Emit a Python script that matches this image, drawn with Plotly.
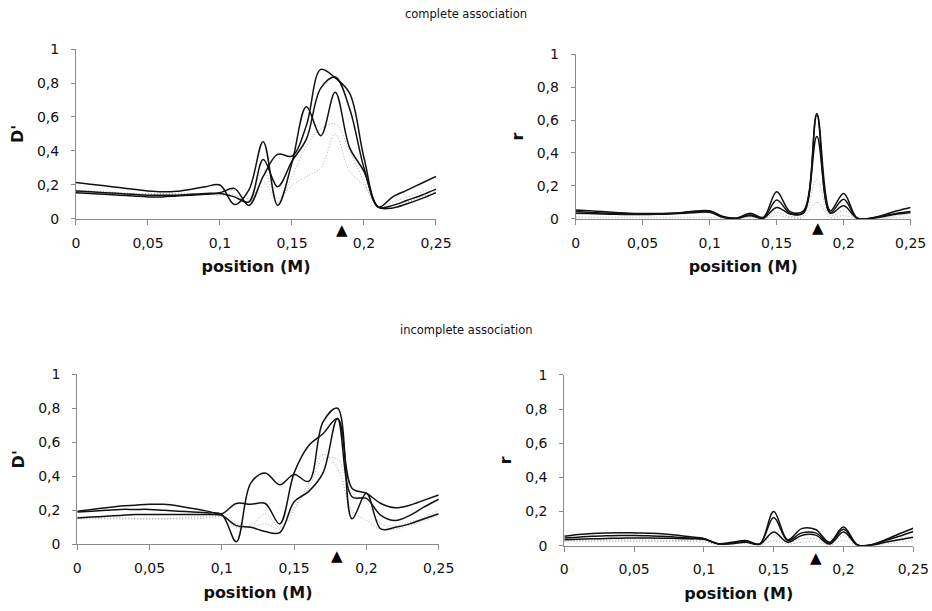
import plotly.graph_objects as go

# ---------------- data ----------------
position = [0.00, 0.01, 0.02, 0.03, 0.04, 0.05, 0.06, 0.07, 0.08, 0.09,
            0.10, 0.11, 0.12, 0.13, 0.14, 0.15, 0.16, 0.17, 0.18, 0.19,
            0.20, 0.21, 0.22, 0.23, 0.24, 0.25]

x_tick_vals = [0, 0.05, 0.1, 0.15, 0.2, 0.25]
x_tick_text = ["0", "0,05", "0,1", "0,15", "0,2", "0,25"]
y_tick_vals = [0, 0.2, 0.4, 0.6, 0.8, 1]
y_tick_text = ["0", "0,2", "0,4", "0,6", "0,8", "1"]

# complete association, D'
c_d_1 = [0.215, 0.205, 0.195, 0.185, 0.175, 0.165, 0.16, 0.163, 0.175, 0.19,
         0.2, 0.085, 0.17, 0.455, 0.08, 0.33, 0.66, 0.49, 0.745, 0.42,
         0.28, 0.07, 0.13, 0.17, 0.21, 0.25]
c_d_2 = [0.165, 0.16, 0.155, 0.15, 0.145, 0.14, 0.14, 0.14, 0.145, 0.15,
         0.155, 0.18, 0.08, 0.25, 0.38, 0.37, 0.55, 0.88, 0.83, 0.74,
         0.36, 0.07, 0.08, 0.11, 0.14, 0.175]
c_d_3 = [0.155, 0.15, 0.145, 0.14, 0.135, 0.13, 0.13, 0.135, 0.14, 0.145,
         0.15, 0.13, 0.1, 0.35, 0.19, 0.34, 0.47, 0.77, 0.835, 0.65,
         0.3, 0.07, 0.065, 0.09, 0.12, 0.155]
c_d_g1 = [0.17, 0.165, 0.16, 0.155, 0.15, 0.15, 0.15, 0.15, 0.15, 0.15,
          0.15, 0.17, 0.12, 0.29, 0.12, 0.2, 0.25, 0.3, 0.5, 0.28,
          0.2, 0.07, 0.1, 0.13, 0.16, 0.2]
c_d_g2 = [0.16, 0.155, 0.15, 0.15, 0.145, 0.145, 0.145, 0.145, 0.145, 0.145,
          0.14, 0.14, 0.1, 0.22, 0.1, 0.25, 0.43, 0.53, 0.56, 0.4,
          0.22, 0.07, 0.08, 0.1, 0.13, 0.16]

# complete association, r
c_r_1 = [0.055, 0.05, 0.045, 0.04, 0.035, 0.033, 0.033, 0.035, 0.04, 0.048,
         0.05, 0.015, 0.005, 0.035, 0.01, 0.165, 0.045, 0.05, 0.64, 0.05,
         0.155, 0.005, 0.005, 0.025, 0.05, 0.07]
c_r_2 = [0.045, 0.04, 0.037, 0.033, 0.03, 0.028, 0.03, 0.033, 0.038, 0.045,
         0.045, 0.01, 0.005, 0.025, 0.005, 0.115, 0.035, 0.04, 0.5, 0.04,
         0.12, 0.005, 0.005, 0.02, 0.035, 0.045]
c_r_3 = [0.035, 0.033, 0.03, 0.028, 0.027, 0.027, 0.028, 0.03, 0.035, 0.04,
         0.04, 0.01, 0.003, 0.02, 0.005, 0.07, 0.03, 0.035, 0.63, 0.035,
         0.08, 0.005, 0.003, 0.015, 0.03, 0.04]
c_r_g1 = [0.03, 0.03, 0.028, 0.026, 0.025, 0.025, 0.025, 0.027, 0.03, 0.035,
          0.035, 0.01, 0.003, 0.015, 0.003, 0.04, 0.015, 0.02, 0.24, 0.02,
          0.05, 0.003, 0.003, 0.01, 0.02, 0.03]
c_r_g2 = [0.01, 0.01, 0.01, 0.01, 0.01, 0.01, 0.01, 0.01, 0.01, 0.01,
          0.01, 0.005, 0.003, 0.008, 0.003, 0.02, 0.008, 0.01, 0.1, 0.01,
          0.02, 0.003, 0.003, 0.005, 0.008, 0.01]

# incomplete association, D'
i_d_1 = [0.19, 0.195, 0.2, 0.205, 0.205, 0.205, 0.2, 0.195, 0.19, 0.185,
         0.175, 0.015, 0.36, 0.42, 0.35, 0.41, 0.37, 0.72, 0.8, 0.15,
         0.3, 0.09, 0.1, 0.12, 0.15, 0.18]
i_d_2 = [0.195, 0.205, 0.215, 0.225, 0.23, 0.235, 0.235, 0.225, 0.21, 0.195,
         0.18, 0.24, 0.235, 0.24, 0.12, 0.42, 0.58, 0.65, 0.74, 0.33,
         0.3, 0.24, 0.215, 0.23, 0.26, 0.29]
i_d_3 = [0.155, 0.16, 0.165, 0.17, 0.175, 0.175, 0.175, 0.175, 0.175, 0.175,
         0.17, 0.11, 0.1, 0.075, 0.068, 0.25, 0.31, 0.42, 0.74, 0.28,
         0.27, 0.17, 0.14, 0.17, 0.22, 0.265]
i_d_g1 = [0.16, 0.16, 0.155, 0.155, 0.15, 0.15, 0.15, 0.155, 0.16, 0.165,
          0.165, 0.12, 0.11, 0.18, 0.1, 0.22, 0.33, 0.5, 0.5, 0.3,
          0.25, 0.12, 0.11, 0.13, 0.16, 0.2]
i_d_g2 = [0.15, 0.15, 0.15, 0.15, 0.15, 0.15, 0.15, 0.15, 0.15, 0.155,
          0.16, 0.1, 0.1, 0.12, 0.09, 0.2, 0.36, 0.53, 0.45, 0.2,
          0.14, 0.09, 0.09, 0.11, 0.14, 0.17]

# incomplete association, r
i_r_1 = [0.055, 0.065, 0.072, 0.075, 0.076, 0.075, 0.073, 0.07, 0.062, 0.052,
         0.042, 0.012, 0.02, 0.03, 0.01, 0.2, 0.035, 0.1, 0.095, 0.02,
         0.11, 0.005, 0.005, 0.035, 0.07, 0.102]
i_r_2 = [0.045, 0.05, 0.055, 0.058, 0.06, 0.06, 0.058, 0.055, 0.05, 0.045,
         0.04, 0.012, 0.015, 0.025, 0.01, 0.165, 0.03, 0.075, 0.075, 0.015,
         0.096, 0.005, 0.005, 0.03, 0.055, 0.083]
i_r_3 = [0.035, 0.038, 0.04, 0.042, 0.044, 0.045, 0.045, 0.044, 0.042, 0.04,
         0.037, 0.01, 0.012, 0.02, 0.008, 0.08, 0.02, 0.06, 0.062, 0.01,
         0.08, 0.003, 0.003, 0.02, 0.035, 0.05]
i_r_g1 = [0.03, 0.03, 0.032, 0.033, 0.033, 0.033, 0.032, 0.031, 0.03, 0.03,
          0.028, 0.01, 0.02, 0.03, 0.01, 0.06, 0.02, 0.04, 0.04, 0.01,
          0.06, 0.005, 0.005, 0.02, 0.04, 0.06]
i_r_g2 = [0.025, 0.025, 0.025, 0.025, 0.025, 0.025, 0.025, 0.025, 0.025, 0.025,
          0.02, 0.008, 0.01, 0.015, 0.005, 0.03, 0.01, 0.02, 0.025, 0.005,
          0.03, 0.003, 0.003, 0.01, 0.02, 0.03]

# disease locus (triangle marker) per panel
locus_pos = [0.185, 0.181, 0.18, 0.18]

panel_titles = ["complete association", "incomplete association"]

# ---------------- layout / style ----------------
FONT = "DejaVu Sans"
BLACK = "#111111"
GRAY = "#a8a8a8"
AXIS = "#8a8a8a"

panels = [
    # (black series, gray series, x-axis id, y-axis id, x domain, y domain, y title, locus, marker shift px)
    ([c_d_1, c_d_2, c_d_3], [c_d_g1, c_d_g2], "x", "y", [0.0815, 0.4678], [0.6416, 0.9198], "D'", locus_pos[0], -11),
    ([c_r_1, c_r_2, c_r_3], [c_r_g1, c_r_g2], "x2", "y2", [0.6177, 0.9771], [0.6416, 0.9116], "r", locus_pos[1], -9),
    ([i_d_1, i_d_2, i_d_3], [i_d_g1, i_d_g2], "x3", "y3", [0.0829, 0.4707], [0.1092, 0.3874], "D'", locus_pos[2], -12),
    ([i_r_1, i_r_2, i_r_3], [i_r_g1, i_r_g2], "x4", "y4", [0.6055, 0.9799], [0.1069, 0.3863], "r", locus_pos[3], -12),
]

fig = go.Figure()
layout_axes = {}
annotations = [
    dict(text=panel_titles[0], x=0.5, y=1 - 14 / 611, xref="paper", yref="paper",
         showarrow=False, font=dict(family=FONT, size=11.5, color="#111"), xanchor="center", yanchor="middle"),
    dict(text=panel_titles[1], x=0.5, y=1 - 330 / 611, xref="paper", yref="paper",
         showarrow=False, font=dict(family=FONT, size=11.5, color="#111"), xanchor="center", yanchor="middle"),
]
for k, (blk, gry, xa, ya, xd, yd, ytitle, loc, shift) in enumerate(panels):
    for s in gry:
        fig.add_trace(go.Scatter(x=position, y=s, xaxis=xa, yaxis=ya, mode="lines",
                                 line=dict(color=GRAY, width=1.0, dash="1px,2px", shape="spline", smoothing=1.0),
                                 showlegend=False, hoverinfo="skip"))
    for s in blk:
        fig.add_trace(go.Scatter(x=position, y=s, xaxis=xa, yaxis=ya, mode="lines",
                                 line=dict(color=BLACK, width=1.5, shape="spline", smoothing=1.0),
                                 showlegend=False))
    annotations.append(dict(text="▲", x=loc, y=0, xref=xa, yref=ya, showarrow=False,
                            yshift=shift, xanchor="center", yanchor="middle",
                            font=dict(family=FONT, size=15, color="black")))
    xname = "xaxis" if xa == "x" else "xaxis" + xa[1:]
    yname = "yaxis" if ya == "y" else "yaxis" + ya[1:]
    layout_axes[xname] = dict(
        domain=xd, anchor=ya, range=[0, 0.25], tickmode="array", automargin=False,
        tickvals=x_tick_vals, ticktext=x_tick_text, showgrid=False, zeroline=False,
        showline=True, linecolor=AXIS, linewidth=1, ticks="outside", ticklen=5,
        tickcolor=AXIS, tickfont=dict(family=FONT, size=14, color="#111"),
        ticklabelstandoff=6, ticklabeloverflow="allow",
        title=dict(text="<b>position (M)</b>", font=dict(family=FONT, size=16, color="#111"), standoff=11),
    )
    layout_axes[yname] = dict(
        domain=yd, anchor=xa, range=[0, 1], tickmode="array", automargin=False,
        tickvals=y_tick_vals, ticktext=y_tick_text, showgrid=False, zeroline=False,
        showline=True, linecolor=AXIS, linewidth=1, ticks="outside", ticklen=4,
        tickcolor=AXIS, tickfont=dict(family=FONT, size=14, color="#111"),
        ticklabelstandoff=9, ticklabeloverflow="allow",
        title=dict(text="<b>" + ytitle + "</b>", font=dict(family=FONT, size=16, color="#111"), standoff=9),
    )

fig.update_layout(
    width=932, height=611, margin=dict(l=0, r=0, t=0, b=0),
    paper_bgcolor="white", plot_bgcolor="white", showlegend=False,
    annotations=annotations,
    **layout_axes,
)

fig.write_html("out.html", config={"displayModeBar": False},
               post_script="document.body.style.margin='0';")
